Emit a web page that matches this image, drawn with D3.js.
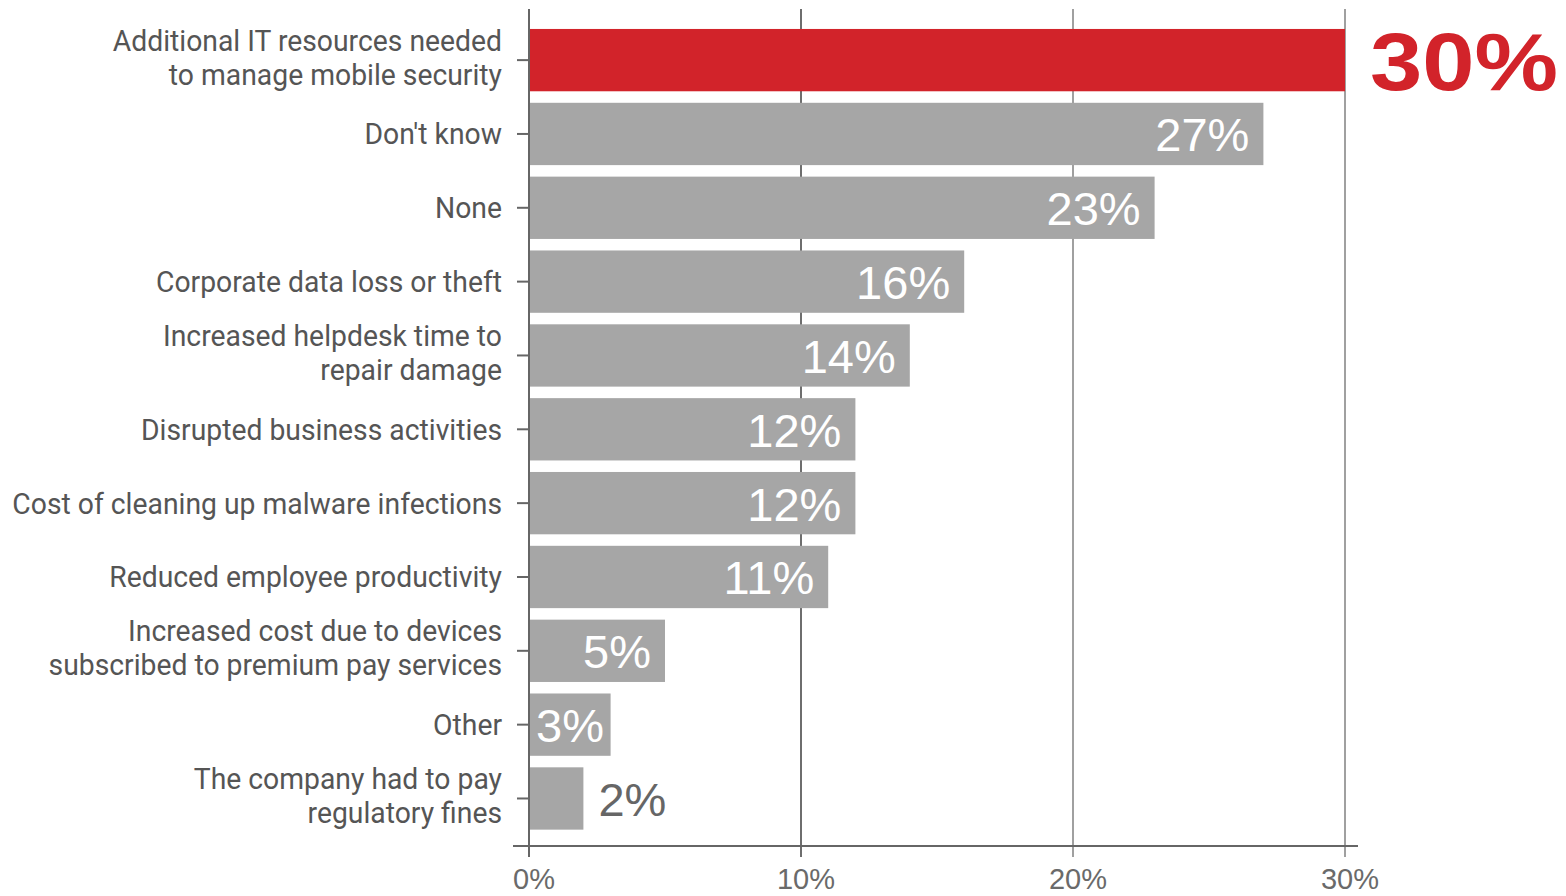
<!DOCTYPE html>
<html>
<head>
<meta charset="utf-8">
<script src="https://cdn.jsdelivr.net/npm/d3@7"></script>
<style>
  html, body { margin: 0; padding: 0; background: #ffffff; }
  svg { display: block; }
</style>
</head>
<body>
<svg id="chart" width="1566" height="896"></svg>
<script>
// Reported impacts of mobile security incidents (share of respondents, %)
const categories = [
  "Additional IT resources needed\nto manage mobile security",
  "Don't know",
  "None",
  "Corporate data loss or theft",
  "Increased helpdesk time to\nrepair damage",
  "Disrupted business activities",
  "Cost of cleaning up malware infections",
  "Reduced employee productivity",
  "Increased cost due to devices\nsubscribed to premium pay services",
  "Other",
  "The company had to pay\nregulatory fines"
];
const values = [30, 27, 23, 16, 14, 12, 12, 11, 5, 3, 2];
const highlighted = ["Additional IT resources needed\nto manage mobile security"];
const xTicks = [0, 10, 20, 30];

const svg = d3.select("#chart");

const x = d3.scaleLinear().domain([0, 30]).range([529, 1345]);
const y = d3.scaleBand()
  .domain(categories)
  .range([23.2, 835.4])
  .paddingInner(0.156)
  .paddingOuter(0.078);

const labelFont = "Roboto, 'Liberation Sans', sans-serif";
const numFont = "'Liberation Sans', 'Helvetica Neue', Arial, sans-serif";

// vertical gridlines (10%, 20%, 30%)
svg.append("g")
  .selectAll("line")
  .data(xTicks.filter(t => t > 0))
  .join("line")
  .attr("x1", d => x(d)).attr("x2", d => x(d))
  .attr("y1", 9).attr("y2", 857)
  .attr("stroke", d => d === 10 ? "#6e6e6e" : "#a0a0a0")
  .attr("stroke-width", 2);

// bars
svg.append("g")
  .selectAll("rect")
  .data(categories)
  .join("rect")
  .attr("x", x(0))
  .attr("y", d => y(d))
  .attr("width", (d, i) => x(values[i]) - x(0))
  .attr("height", y.bandwidth())
  .attr("fill", d => highlighted.includes(d) ? "#d2232a" : "#a6a6a6");

// horizontal baseline axis
svg.append("line")
  .attr("x1", 513).attr("x2", 1358)
  .attr("y1", 846).attr("y2", 846)
  .attr("stroke", "#666").attr("stroke-width", 2);

// y axis line
svg.append("line")
  .attr("x1", x(0)).attr("x2", x(0))
  .attr("y1", 9).attr("y2", 857)
  .attr("stroke", "#666").attr("stroke-width", 2);

// y axis ticks
svg.append("g")
  .selectAll("line")
  .data(categories)
  .join("line")
  .attr("x1", 517).attr("x2", x(0))
  .attr("y1", d => y(d) + y.bandwidth() / 2)
  .attr("y2", d => y(d) + y.bandwidth() / 2)
  .attr("stroke", "#666").attr("stroke-width", 2);

// x tick labels
svg.append("g")
  .selectAll("text")
  .data(xTicks)
  .join("text")
  .attr("x", d => x(d) + 5)
  .attr("y", 889)
  .attr("text-anchor", "middle")
  .attr("font-family", numFont)
  .attr("font-size", 29)
  .attr("fill", "#6a6a6a")
  .text(d => d + "%");

// category labels (multi-line), set in a horizontally condensed face
const labelRight = 502;
const lineGap = 34;
const labelG = svg.append("g");
const labels = labelG.selectAll("text")
  .data(categories)
  .join("text")
  .attr("text-anchor", "end")
  .attr("font-family", labelFont)
  .attr("font-size", 30)
  .attr("fill", "#555")
  .each(function(d) {
    const lines = d.split("\n");
    const cy = y(d) + y.bandwidth() / 2 + 10.5 - (lines.length > 1 ? 3 : 0);
    const start = cy - (lines.length - 1) * lineGap / 2;
    d3.select(this).selectAll("tspan")
      .data(lines)
      .join("tspan")
      .attr("x", 0)
      .attr("y", (l, j) => start + j * lineGap)
      .text(l => l);
  });

// condense so the longest single line spans 490px
let widest = 0;
labels.selectAll("tspan").each(function() {
  widest = Math.max(widest, this.getComputedTextLength());
});
const squeeze = widest > 0 ? 490 / widest : 1;
labelG.attr("transform", `translate(${labelRight},0) scale(${squeeze},1)`);

// value labels
svg.append("g")
  .selectAll("text")
  .data(categories)
  .join("text")
  .each(function(d, i) {
    const v = values[i];
    const cy = y(d) + y.bandwidth() / 2;
    const t = d3.select(this).attr("font-family", numFont).text(v + "%");
    if (highlighted.includes(d)) {
      t.attr("x", x(v) + 25).attr("y", cy + 30)
        .attr("font-size", 82).attr("font-weight", "bold")
        .attr("fill", "#d2232a")
        .attr("textLength", 188).attr("lengthAdjust", "spacingAndGlyphs");
    } else if (v < 3) {
      t.attr("x", x(v) + 15).attr("y", cy + 18)
        .attr("font-size", 47).attr("fill", "#666");
    } else {
      t.attr("y", cy + 17.5)
        .attr("text-anchor", "end")
        .attr("font-size", 47).attr("fill", "#ffffff");
      const w = this.getComputedTextLength();
      t.attr("x", Math.max(x(v) - 14, x(0) + 7 + w));
    }
  });
</script>
</body>
</html>
